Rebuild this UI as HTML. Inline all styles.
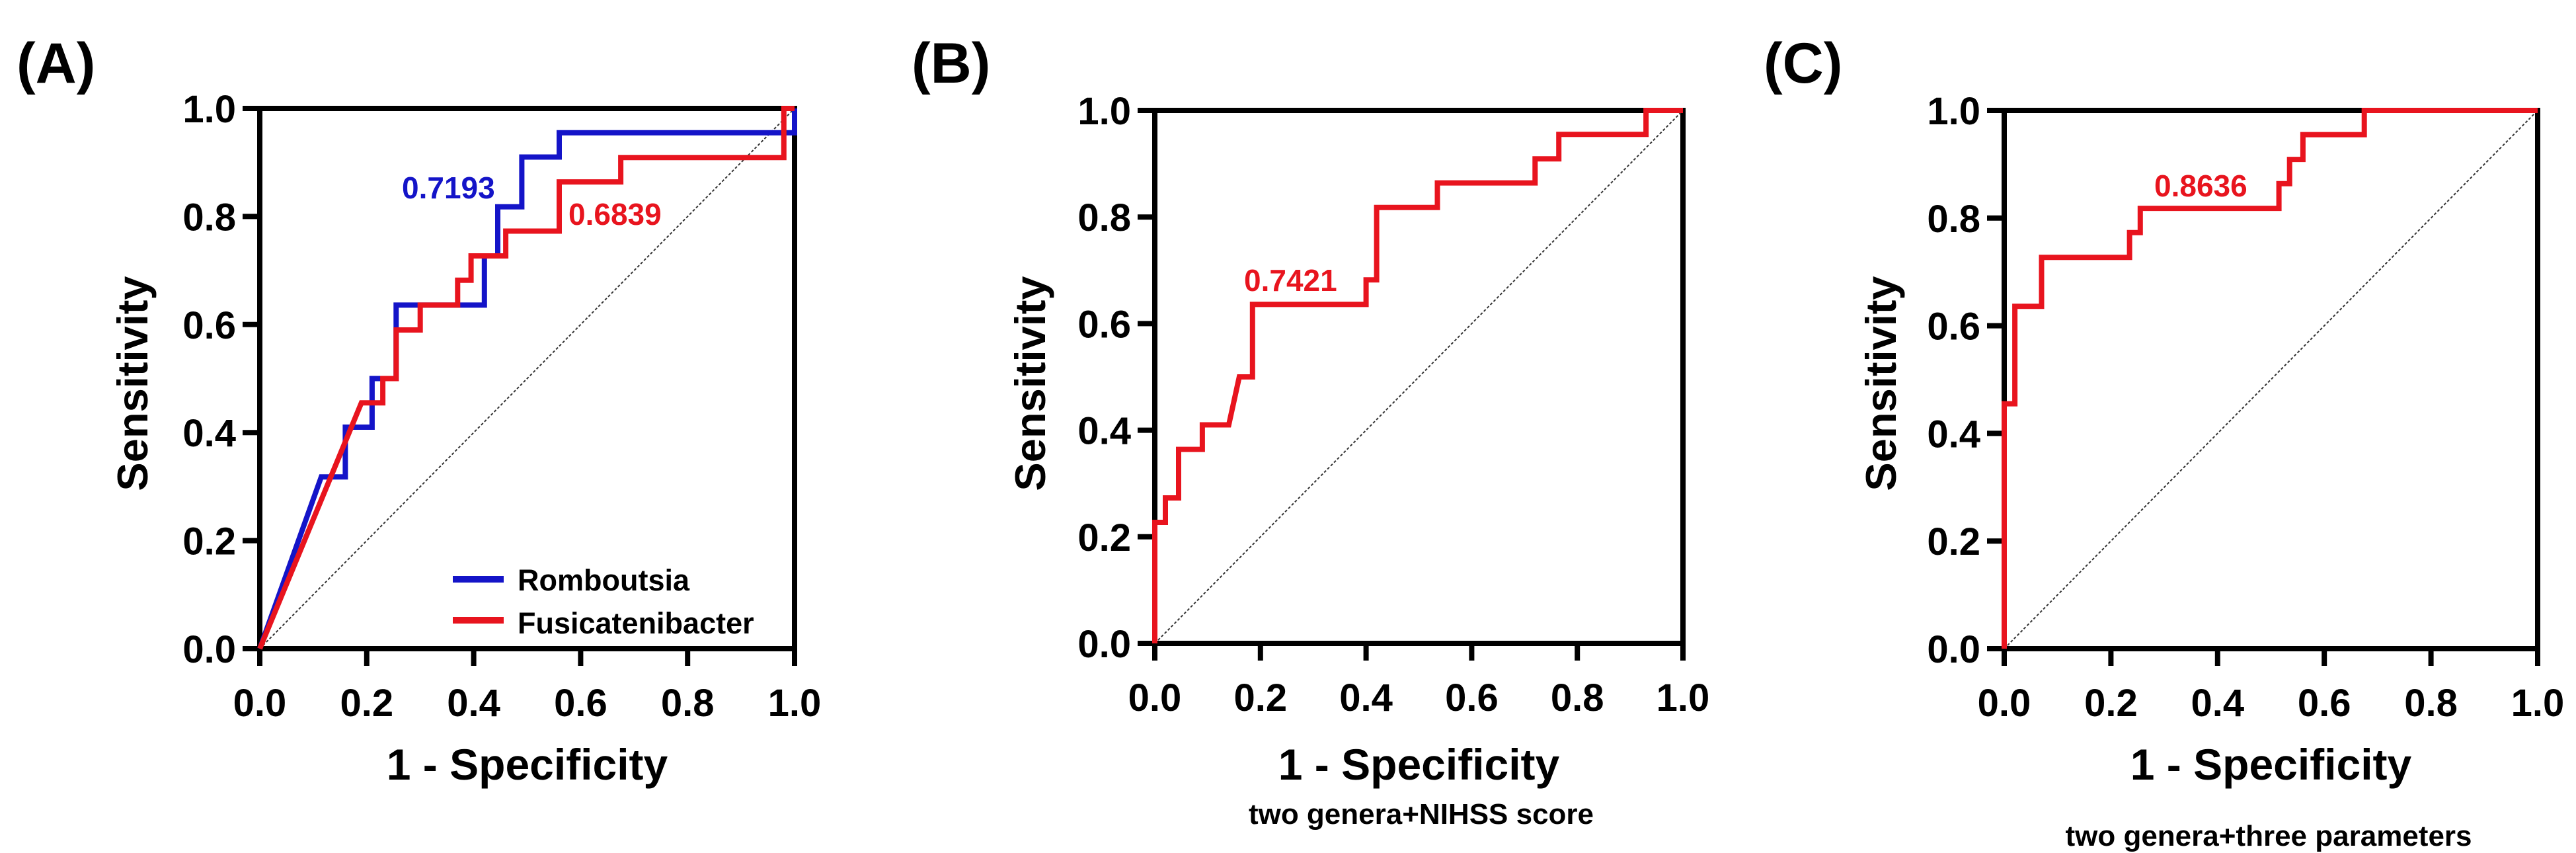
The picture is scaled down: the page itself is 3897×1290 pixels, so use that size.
<!DOCTYPE html>
<html><head><meta charset="utf-8"><style>
html,body{margin:0;padding:0;background:#fff;}
svg{display:block;font-family:"Liberation Sans",Arial,sans-serif;font-weight:bold;}
</style></head><body>
<svg id="fig" width="3897" height="1290" viewBox="0 0 3897 1290" xmlns="http://www.w3.org/2000/svg">
<rect width="3897" height="1290" fill="#fff"/>
</svg>
<script>
const ticks = [0, 0.2, 0.4, 0.6, 0.8, 1.0];
const tickLabels = ["0.0","0.2","0.4","0.6","0.8","1.0"];
const aBlueX = [0,0.115,0.16,0.16,0.21,0.21,0.255,0.255,0.42,0.42,0.445,0.445,0.49,0.49,0.56,0.56,1.0,1.0];
const aBlueY = [0,0.318,0.318,0.41,0.41,0.5,0.5,0.636,0.636,0.727,0.727,0.818,0.818,0.91,0.91,0.955,0.955,1.0];
const aRedX = [0,0.19,0.23,0.23,0.255,0.255,0.30,0.30,0.37,0.37,0.395,0.395,0.46,0.46,0.56,0.56,0.675,0.675,0.98,0.98,1.0];
const aRedY = [0,0.455,0.455,0.5,0.5,0.59,0.59,0.636,0.636,0.682,0.682,0.727,0.727,0.773,0.773,0.864,0.864,0.909,0.909,1.0,1.0];
const bX = [0,0,0.02,0.02,0.045,0.045,0.09,0.09,0.14,0.16,0.185,0.185,0.40,0.40,0.42,0.42,0.535,0.535,0.72,0.72,0.765,0.765,0.93,0.93,1.0];
const bY = [0,0.227,0.227,0.273,0.273,0.364,0.364,0.41,0.41,0.5,0.5,0.636,0.636,0.682,0.682,0.818,0.818,0.864,0.864,0.909,0.909,0.955,0.955,1.0,1.0];
const cX = [0,0,0.02,0.02,0.07,0.07,0.235,0.235,0.255,0.255,0.515,0.515,0.535,0.535,0.56,0.56,0.675,0.675,1.0];
const cY = [0,0.455,0.455,0.636,0.636,0.727,0.727,0.773,0.773,0.818,0.818,0.864,0.864,0.909,0.909,0.955,0.955,1.0,1.0];

const NS="http://www.w3.org/2000/svg";
const svg=document.getElementById('fig');
function mk(tag, attrs, parent){const e=document.createElementNS(NS,tag);for(const k in attrs)e.setAttribute(k,attrs[k]);(parent||svg).appendChild(e);return e;}

const panels=[
 {id:'a',letter:'(A)',lx:25,x0:393,x1:1202,y0:981,y1:164,ytx:200,series:[{xs:aBlueX,ys:aBlueY,c:'#1414c8',n:'romboutsia-curve'},{xs:aRedX,ys:aRedY,c:'#e8141e',n:'fusicatenibacter-curve'}]},
 {id:'b',letter:'(B)',lx:1379,x0:1747,x1:2546,y0:973,y1:167,ytx:1558,series:[{xs:bX,ys:bY,c:'#e8141e',n:'combined-nihss-curve'}],sub:'two genera+NIHSS score',subx:2150,suby:1246},
 {id:'c',letter:'(C)',lx:2668,x0:3032,x1:3839,y0:981,y1:167,ytx:2845,series:[{xs:cX,ys:cY,c:'#e8141e',n:'combined-three-params-curve'}],sub:'two genera+three parameters',subx:3432,suby:1279}
];

panels.forEach(p=>{
 const g=mk('g',{});
 
 
 const sx=v=>p.x0+v*(p.x1-p.x0), sy=v=>p.y0+v*(p.y1-p.y0);
 const L=mk('text',{x:p.lx,y:125,'font-size':86},g);L.textContent=p.letter;
 
 
 const fr=mk('rect',{x:p.x0,y:p.y1,width:p.x1-p.x0,height:p.y0-p.y1,fill:'none',stroke:'#000','stroke-width':8},g);
 
 
 const d=mk('line',{x1:sx(0),y1:sy(0),x2:sx(1),y2:sy(1),stroke:'#333','stroke-width':2,'stroke-dasharray':'4,3'},g);
 
 
 ticks.forEach((t,i)=>{
  const tx=mk('line',{x1:sx(t),y1:p.y0,x2:sx(t),y2:p.y0+26,stroke:'#000','stroke-width':8},g);
  
  
  const ty=mk('line',{x1:p.x0-26,y1:sy(t),x2:p.x0,y2:sy(t),stroke:'#000','stroke-width':8},g);
  
  
  const xl=mk('text',{x:sx(t),y:p.y0+102,'font-size':58,'text-anchor':'middle'},g);xl.textContent=tickLabels[i];
  
  
  const yl=mk('text',{x:p.x0-36,y:sy(t)+21,'font-size':58,'text-anchor':'end'},g);yl.textContent=tickLabels[i];
  
  
 });
 p.series.forEach(s=>{
  const pts=s.xs.map((x,i)=>sx(x).toFixed(1)+','+sy(s.ys[i]).toFixed(1)).join(' ');
  const pl=mk('polyline',{points:pts,fill:'none',stroke:s.c,'stroke-width':8,'stroke-linejoin':'miter'},g);
  
  
 });
 const xt=mk('text',{x:(p.x0+p.x1)/2,y:1179,'font-size':66,'text-anchor':'middle'},g);xt.textContent='1 - Specificity';
 
 
 const yt=mk('text',{x:0,y:0,'font-size':65,'text-anchor':'middle',transform:`translate(${p.ytx+23},580) rotate(-90)`},g);yt.textContent='Sensitivity';
 
 
 if(p.sub){const st=mk('text',{x:p.subx,y:p.suby,'font-size':44,'text-anchor':'middle'},g);st.textContent=p.sub;
  
  }
});

function lab(x,y,t,c,n){const e=mk('text',{x:x,y:y,'font-size':46,fill:c});e.textContent=t;
 
 }
lab(608,300,'0.7193','#1414c8','auc-label-romboutsia');
lab(860,340,'0.6839','#e8141e','auc-label-fusicatenibacter');
lab(1882,440,'0.7421','#e8141e','auc-label-b');
lab(3259,297,'0.8636','#e8141e','auc-label-c');

const lg=mk('g',{});


const l1=mk('line',{x1:685,y1:876,x2:762,y2:876,stroke:'#1414c8','stroke-width':10},lg);


const t1=mk('text',{x:783,y:893,'font-size':45},lg);t1.textContent='Romboutsia';


const l2=mk('line',{x1:685,y1:938,x2:762,y2:938,stroke:'#e8141e','stroke-width':10},lg);


const t2=mk('text',{x:783,y:958,'font-size':45},lg);t2.textContent='Fusicatenibacter';


</script>
</body></html>
